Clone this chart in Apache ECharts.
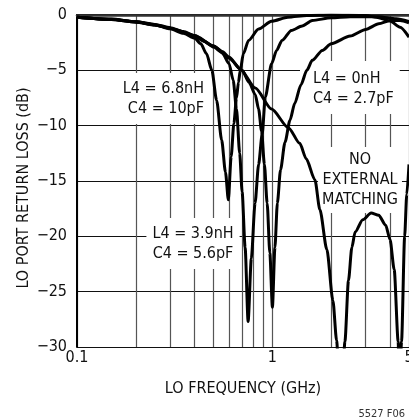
<!DOCTYPE html>
<html>
<head>
<meta charset="utf-8">
<script src="https://cdn.jsdelivr.net/npm/echarts@6/dist/echarts.min.js"></script>
<style>
  html, body { margin: 0; padding: 0; background: #fff; }
  #chart { width: 409px; height: 418px; }
</style>
</head>
<body>
<div id="chart"></div>
<script>
// LO port return loss vs LO frequency, for the different matching networks
var FONT = "'DejaVu Sans Condensed', 'Liberation Sans Narrow', Arial, sans-serif";

// [frequency GHz, return loss dB]
// L4 = 6.8nH, C4 = 10pF
var rl68 = [[0.1,-0.2],[0.15,-0.4],[0.2,-0.65],[0.25,-0.9],[0.3,-1.25],[0.35,-1.65],[0.4,-2.1],[0.43,-2.6],
  [0.46,-3.5],[0.49,-5],[0.518,-7.7],[0.55,-11.3],[0.575,-14.2],[0.595,-16.7],[0.615,-12.8],[0.635,-9.8],
  [0.655,-7.5],[0.67,-6.1],[0.685,-5],[0.71,-3.5],[0.755,-2.3],[0.85,-1.27],[0.99,-0.57],[1.2,-0.2],
  [1.5,-0.05],[2,0],[3,-0.05],[3.5,-0.25],[4,-0.55],[4.5,-1.1],[5,-2.0]];
// L4 = 3.9nH, C4 = 5.6pF
var rl39 = [[0.1,-0.2],[0.15,-0.38],[0.2,-0.62],[0.25,-0.88],[0.3,-1.2],[0.35,-1.55],[0.4,-1.95],[0.45,-2.4],
  [0.5,-2.9],[0.553,-3.4],[0.6,-4.4],[0.63,-5.9],[0.655,-8.5],[0.68,-12.5],[0.70,-16],[0.725,-21],
  [0.751,-27.7],[0.78,-22],[0.815,-17],[0.85,-13.5],[0.886,-10.8],[0.92,-7.4],[0.99,-4.4],[1.05,-3.2],
  [1.12,-2.3],[1.25,-1.4],[1.42,-1.0],[1.6,-0.5],[2,-0.25],[2.5,-0.15],[3.5,-0.15],[4.3,-0.35],[5,-0.6]];
// L4 = 0nH, C4 = 2.7pF
var rl0 = [[0.1,-0.2],[0.15,-0.37],[0.2,-0.6],[0.25,-0.85],[0.3,-1.15],[0.35,-1.5],[0.4,-1.85],[0.5,-2.8],
  [0.6,-3.9],[0.7,-5],[0.76,-6.1],[0.817,-7.2],[0.85,-8.5],[0.88,-10.5],[0.91,-13.5],[0.94,-17],[0.97,-21.5],
  [1.0,-26.4],[1.03,-21],[1.06,-17],[1.1,-14],[1.16,-11.5],[1.23,-9.5],[1.3,-8],[1.4,-6.3],[1.5,-5.0],
  [1.6,-4.1],[1.8,-3.2],[2,-2.6],[2.5,-1.9],[3,-1.3],[3.5,-0.8],[4,-0.5],[4.5,-0.5],[5,-0.7]];
// no external matching
var rlNone = [[0.1,-0.2],[0.15,-0.4],[0.2,-0.62],[0.25,-0.9],[0.3,-1.2],[0.35,-1.55],[0.4,-1.9],[0.5,-2.8],
  [0.553,-3.3],[0.6,-3.8],[0.685,-4.9],[0.817,-6.6],[0.99,-8.5],[1.21,-10.2],[1.38,-11.6],[1.49,-13.0],
  [1.65,-14.9],[1.75,-17.6],[1.9,-21.2],[2.04,-25.8],[2.13,-29.4],[2.24,-37],[2.35,-29.5],[2.45,-24],
  [2.55,-21],[2.65,-19.6],[2.9,-18.5],[3.2,-17.9],[3.5,-18.1],[3.8,-19],[4.0,-20.3],[4.2,-23],[4.4,-29.5],
  [4.47,-34],[4.58,-29.5],[4.75,-20],[4.87,-16.2],[5,-13.5]];

// log grid lines between the labelled decades
var minorFreqs = [0.2, 0.3, 0.4, 0.5, 0.6, 0.7, 0.8, 0.9, 2, 3, 4];

var myChart = echarts.init(document.getElementById('chart'));

function curve(data) {
  return {
    type: 'line',
    data: data,
    z: 3,
    symbol: 'none',
    smooth: 0.25,
    smoothMonotone: 'x',
    silent: true,
    lineStyle: { color: '#000', width: 3 }
  };
}

function note(text, x, y, align, pad) {
  return {
    type: 'text',
    x: x,
    y: y,
    z: 1,
    style: {
      text: text,
      font: '16px ' + FONT,
      fill: '#111',
      align: align,
      verticalAlign: 'top',
      lineHeight: 20,
      backgroundColor: '#fff',
      padding: pad
    }
  };
}

var option = {
  animation: false,
  textStyle: { fontFamily: FONT },
  grid: { left: 77, right: 0, top: 15, bottom: 71, containLabel: false, outerBoundsMode: 'none' },
  xAxis: [{
    type: 'log',
    logBase: 10,
    min: 0.1,
    max: 5,
    name: 'LO FREQUENCY (GHz)',
    nameLocation: 'middle',
    nameGap: 34,
    nameMoveOverlap: false,
    nameTextStyle: { color: '#111', fontSize: 16, fontFamily: FONT },
    axisLine: { show: true, lineStyle: { color: '#000', width: 2 } },
    axisTick: { show: false },
    axisLabel: {
      color: '#111', fontSize: 16, fontFamily: FONT, margin: 3,
      alignMinLabel: 'center', alignMaxLabel: 'center',
      formatter: function (v) { return String(+(+v).toPrecision(3)); }
    },
    splitLine: { show: true, lineStyle: { color: '#555', width: 1.2 } }
  }, {
    // top frame line
    type: 'value',
    position: 'top',
    min: 0,
    max: 1,
    axisLine: { show: true, lineStyle: { color: '#333', width: 2.5 } },
    axisTick: { show: false },
    axisLabel: { show: false },
    splitLine: { show: false }
  }],
  yAxis: {
    type: 'value',
    min: -30,
    max: 0,
    interval: 5,
    name: 'LO PORT RETURN LOSS (dB)',
    nameLocation: 'middle',
    nameGap: 45,
    nameMoveOverlap: false,
    nameTextStyle: { color: '#111', fontSize: 16, fontFamily: FONT, padding: [0, 14, 0, 0] },
    axisLine: { show: true, lineStyle: { color: '#000', width: 2 } },
    axisTick: { show: false },
    axisLabel: {
      color: '#111', fontSize: 16, fontFamily: FONT, margin: 10,
      formatter: function (v) { return v < 0 ? '\u2212' + Math.abs(v) : String(v); }
    },
    splitLine: { show: true, lineStyle: { color: '#111', width: 1.2 } }
  },
  graphic: [
    note('L4 = 6.8nH\nC4 = 10pF', 207, 73, 'right', [6, 3, 5, 3]),
    note('L4 = 0nH\nC4 = 2.7pF', 300, 61, 'left', [8, 6, 5, 13]),
    note('NO\nEXTERNAL\nMATCHING', 360, 147, 'center', [3, 4, 3, 4]),
    note('L4 = 3.9nH\nC4 = 5.6pF', 193, 218, 'center', [6, 6, 5, 6]),
    {
      type: 'text', x: 405, y: 409, z: 1,
      style: { text: '5527 F06', font: '11px ' + FONT, fill: '#333', align: 'right', verticalAlign: 'top' }
    }
  ],
  series: [
    {
      // minor log grid lines
      type: 'line',
      data: [],
      silent: true,
      markLine: {
        z: 0,
        silent: true,
        symbol: 'none',
        label: { show: false },
        lineStyle: { color: '#555', width: 1.2, type: 'solid' },
        data: minorFreqs.map(function (f) { return { xAxis: f }; })
      }
    },
    curve(rl68),
    curve(rl39),
    curve(rl0),
    curve(rlNone)
  ]
};

myChart.setOption(option);
window.addEventListener('resize', function () { myChart.resize(); });
</script>
</body>
</html>
